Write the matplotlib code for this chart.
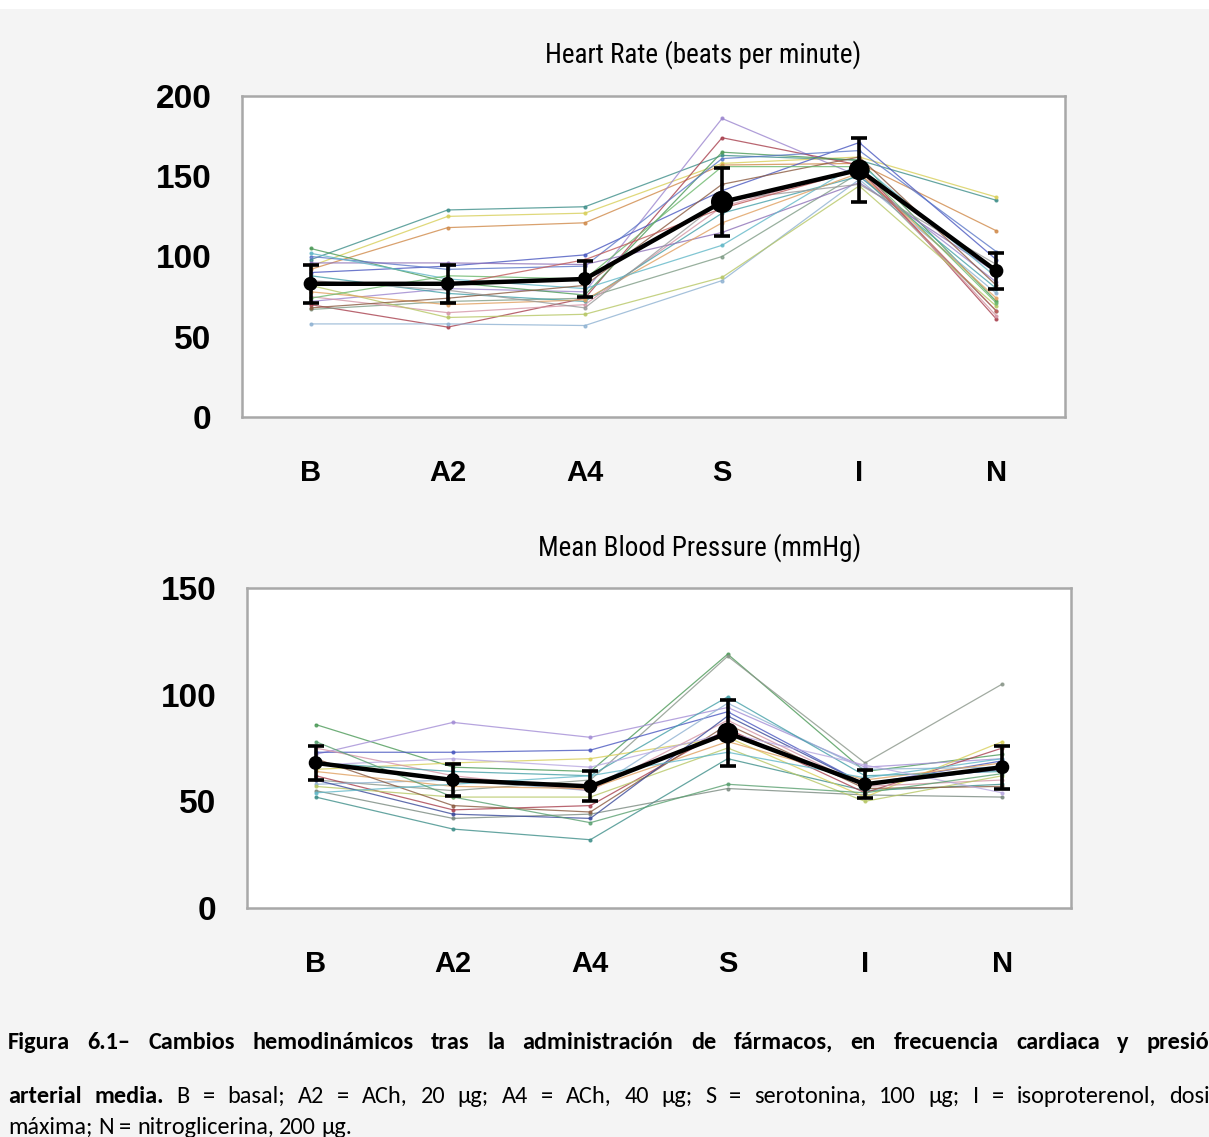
import matplotlib
matplotlib.use('Agg')
import matplotlib.pyplot as plt
from matplotlib.patches import Rectangle
import matplotlib.font_manager as fm

W, H = 1209, 1137

stages = ['B', 'A2', 'A4', 'S', 'I', 'N']

# heart rate, one row per animal (B, A2, A4, S, I, N)
hr_subjects = [
    [98, 129, 131, 163, 160, 135],
    [94, 125, 127, 158, 162, 137],
    [92, 118, 121, 157, 158, 116],
    [72, 80, 78, 186, 150, 84],
    [70, 56, 74, 174, 157, 61],
    [90, 94, 101, 141, 171, 98],
    [105, 84, 76, 165, 160, 72],
    [58, 58, 57, 85, 148, 77],
    [67, 72, 74, 100, 152, 66],
    [75, 65, 70, 131, 155, 63],
    [100, 92, 94, 161, 166, 103],
    [82, 62, 64, 87, 144, 69],
    [88, 77, 72, 127, 150, 80],
    [96, 96, 95, 115, 146, 90],
    [78, 70, 73, 121, 152, 74],
    [102, 86, 80, 107, 158, 87],
    [68, 74, 82, 145, 162, 82],
    [85, 79, 68, 135, 145, 95],
    [74, 88, 86, 156, 156, 71],
    [84, 82, 98, 130, 154, 66],
]
hr_mean = [83, 83, 86, 134, 154, 91]
hr_err = [12, 12, 11, 21, 20, 11]

# mean blood pressure
bp_subjects = [
    [86, 66, 64, 119, 64, 72],
    [72, 87, 80, 94, 66, 70],
    [60, 55, 60, 118, 68, 105],
    [52, 37, 32, 70, 55, 58],
    [55, 42, 44, 56, 53, 52],
    [73, 73, 74, 92, 58, 69],
    [62, 46, 48, 84, 54, 75],
    [65, 68, 70, 80, 52, 78],
    [58, 60, 55, 96, 65, 66],
    [75, 62, 55, 88, 57, 60],
    [64, 57, 56, 78, 60, 68],
    [68, 64, 62, 99, 62, 64],
    [57, 52, 52, 75, 50, 62],
    [70, 48, 45, 86, 56, 57],
    [60, 44, 42, 90, 58, 65],
    [54, 58, 62, 73, 61, 70],
    [67, 70, 66, 82, 67, 54],
    [78, 52, 40, 58, 54, 63],
]
bp_mean = [68, 60, 57, 82, 58, 66]
bp_err = [8, 7.5, 7, 15.5, 6.5, 10]

hr_colors = ['#3f8f8a', '#d8cf5a', '#d08a4a', '#9c86cf', '#a8404e', '#4a58c0',
             '#4c9a58', '#8fb2d2', '#7f9c86', '#d596a6', '#5c78c8', '#b7c766',
             '#45a0a8', '#8e72b8', '#e0a060', '#62b8c8', '#8a5a40', '#9a9a9a',
             '#6cb86c', '#c05a5a']
bp_colors = ['#4c9a58', '#a48ed6', '#8a968a', '#3f8f8a', '#7a8a80', '#4a58c0',
             '#a8404e', '#d8cf5a', '#8fb2d2', '#d596a6', '#e0a060', '#45a0a8',
             '#b7c766', '#8a5a40', '#3a4a9a', '#62b8c8', '#b8a8e0', '#5aa070']

fig = plt.figure(figsize=(W / 100, H / 100), dpi=100, facecolor='#f4f4f4')
fig.patches.append(Rectangle((0, 1 - 9 / H), 1, 9 / H, transform=fig.transFigure,
                             facecolor='white', edgecolor='none'))

fams = {f.name for f in fm.fontManager.ttflist}
title_family = [c for c in ['Roboto Condensed', 'Archivo Narrow', 'Liberation Sans'] if c in fams][0]
cap_family = [c for c in ['Carlito', 'Lato'] if c in fams][0]


def panel(rect, subjects, colors, mean, err, ylim, yticks, title, title_xy, msizes):
    ax = fig.add_axes(rect)
    x = range(len(stages))
    for i, row in enumerate(subjects):
        ax.plot(x, row, color=colors[i], lw=0.9, alpha=0.8,
                marker='o', ms=2, zorder=2)
    ax.errorbar(x, mean, yerr=err, color='black', lw=3.2, elinewidth=2.6,
                capsize=6, capthick=2.6, zorder=5)
    ax.scatter(x, mean, s=[m ** 2 for m in msizes], color='black', zorder=6)
    ax.set_xlim(-0.5, 5.5)
    ax.set_ylim(*ylim)
    ax.set_yticks(yticks)
    ax.set_xticks(list(x))
    ax.set_xticklabels(stages)
    ax.tick_params(length=0)
    ax.tick_params(axis='y', pad=22, labelsize=24)
    ax.tick_params(axis='x', pad=30, labelsize=21)
    for lab in ax.get_yticklabels() + ax.get_xticklabels():
        lab.set_fontweight('bold'); lab.set_family('Liberation Sans')
    for sp in ax.spines.values():
        sp.set_color('#a8a8a8'); sp.set_linewidth(1.8)
    ax.set_facecolor('white')
    fig.text(title_xy[0] / W, 1 - title_xy[1] / H, title, ha='center', va='center',
             fontsize=19.5, family=title_family)
    return ax


panel([242 / W, 1 - 417 / H, 823 / W, 321 / H], hr_subjects, hr_colors, hr_mean, hr_err,
      (0, 200), [0, 50, 100, 150, 200], 'Heart Rate (beats per minute)', (703, 55),
      [9, 9, 9, 15, 14, 9])
panel([247 / W, 1 - 908 / H, 824 / W, 320 / H], bp_subjects, bp_colors, bp_mean, bp_err,
      (0, 150), [0, 50, 100, 150], 'Mean Blood Pressure (mmHg)', (700, 548),
      [9, 9, 9, 14, 9, 9])

# caption, justified lines like the source document
cap_font = [cap_family, 'DejaVu Sans']
cap_size = 16.5 if cap_family == 'Lato' else 17.5
renderer = fig.canvas.get_renderer()


def put_line(words, y, x0, x1=None):
    x = x0
    texts = [fig.text(0, 1 - y / H, w, fontsize=cap_size, fontweight=wt, family=cap_font,
                      va='baseline', ha='left') for w, wt in words]
    widths = [t.get_window_extent(renderer).width for t in texts]
    space = 0.23 * cap_size * 100 / 72
    if x1 is not None:
        space = (x1 - x0 - sum(widths)) / (len(words) - 1)
    for t, w in zip(texts, widths):
        t.set_x(x / W)
        x += w + space


line1 = 'Figura 6.1– Cambios hemodinámicos tras la administración de fármacos, en frecuencia cardiaca y presión'
put_line([(w, 'bold') for w in line1.split()], 1049, 8, 1222)
line2 = 'B = basal; A2 = ACh, 20 µg; A4 = ACh, 40 µg; S = serotonina, 100 µg; I = isoproterenol, dosis'
put_line([('arterial', 'bold'), ('media.', 'bold')] + [(w, 'normal') for w in line2.split()],
         1103, 8, 1219)
line3 = 'máxima; N = nitroglicerina, 200 µg.'
put_line([(w, 'normal') for w in line3.split()], 1134, 8)

fig.savefig('out.png', dpi=100, facecolor=fig.get_facecolor())
